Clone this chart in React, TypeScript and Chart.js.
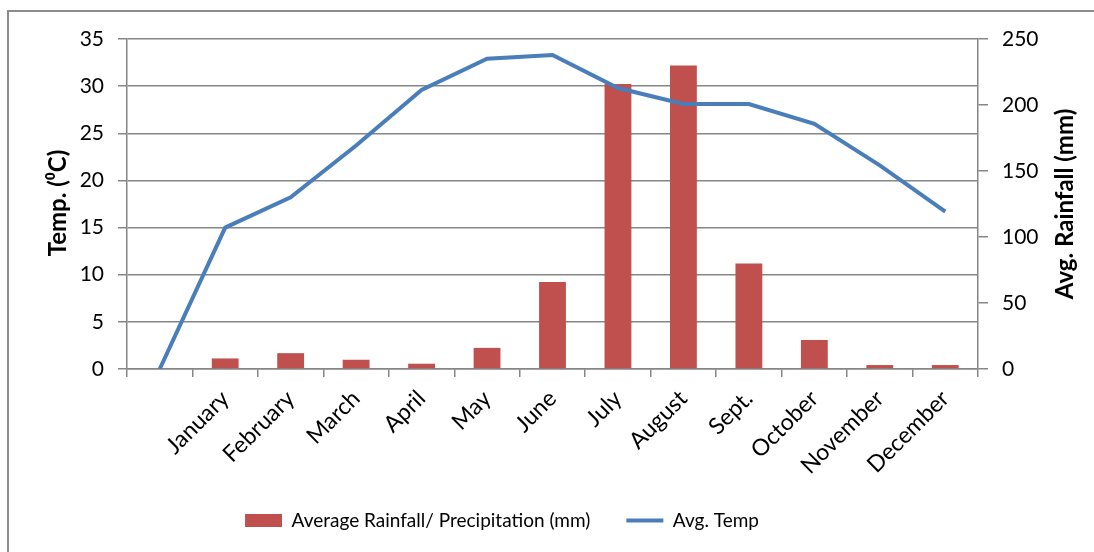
import React, { useEffect, useRef } from "react";
import { Chart, registerables } from "chart.js";

Chart.register(...registerables);

const categories = ["", "January", "February", "March", "April", "May", "June", "July", "August", "Sept.", "October", "November", "December"];
const rainfall = [null, 8, 12, 7, 4, 16, 66, 216, 230, 80, 22, 3, 3];
const avgTemp = [0, 15, 18.2, 23.7, 29.6, 32.9, 33.3, 29.8, 28.1, 28.1, 26.0, 21.6, 16.7];
const tempTicks = [0, 5, 10, 15, 20, 25, 30, 35];
const rainTicks = [0, 50, 100, 150, 200, 250];

const FONT = "Lato, 'Open Sans', sans-serif";
const GRID = "#868686";

const framePlugin = {
  id: "frameAndTitles",
  afterLayout(chart: any) {
    const lg = chart.legend;
    if (lg) {
      lg.left = 0;
      lg.right = 1004;
    }
  },
  afterDraw(chart: any) {
    const ctx = chart.ctx;
    ctx.save();
    ctx.strokeStyle = "#8c8c8c";
    ctx.lineWidth = 2;
    ctx.beginPath();
    ctx.moveTo(8, 552);
    ctx.lineTo(8, 11);
    ctx.lineTo(1094, 11);
    ctx.stroke();
    ctx.fillStyle = "#000";
    ctx.font = "bold 24px " + FONT;
    ctx.textAlign = "center";
    ctx.textBaseline = "middle";
    ctx.translate(58, 203);
    ctx.rotate(-Math.PI / 2);
    ctx.fillText("Temp. (\u2070C)", 0, 0);
    ctx.restore();
    ctx.save();
    ctx.fillStyle = "#000";
    ctx.font = "bold 24px " + FONT;
    ctx.textAlign = "center";
    ctx.textBaseline = "middle";
    ctx.translate(1065, 204);
    ctx.rotate(-Math.PI / 2);
    ctx.fillText("Avg. Rainfall (mm)", 0, 0);
    ctx.restore();
  },
};

export default function App() {
  const ref = useRef<HTMLCanvasElement | null>(null);
  useEffect(() => {
    if (!ref.current) return;
    const chart = new Chart(ref.current, {
      type: "bar",
      data: {
        labels: categories,
        datasets: [
          {
            type: "bar",
            label: "Average Rainfall/ Precipitation (mm)",
            data: rainfall as any,
            backgroundColor: "#C0504D",
            borderWidth: 0,
            yAxisID: "y1",
            order: 1,
            categoryPercentage: 1,
            barPercentage: 0.41,
            pointStyle: "rect",
          } as any,
          {
            type: "line",
            label: "Avg. Temp",
            data: avgTemp,
            borderColor: "#4A7EBB",
            backgroundColor: "#4A7EBB",
            borderWidth: 4,
            pointRadius: 0,
            pointStyle: "line",
            tension: 0,
            yAxisID: "y",
            order: 0,
          } as any,
        ],
      },
      options: {
        responsive: false,
        animation: false,
        devicePixelRatio: 1,
        layout: { padding: { left: 0, right: 0, top: 39, bottom: 12 } },
        plugins: {
          tooltip: { enabled: false },
          legend: {
            position: "bottom",
            labels: {
              usePointStyle: true,
              pointStyleWidth: 37,
              boxHeight: 13,
              padding: 36,
              color: "#000",
              font: { size: 19, family: FONT },
              sort: (a: any, b: any) => a.datasetIndex - b.datasetIndex,
            },
          },
        },
        scales: {
          x: {
            offset: true,
            grid: { display: true, drawOnChartArea: false, drawTicks: true, tickLength: 8, color: GRID, lineWidth: 1.5, offset: true },
            border: { display: true, color: GRID, width: 1.5 },
            ticks: { color: "#000", font: { size: 23, family: FONT }, maxRotation: 45, minRotation: 45, autoSkip: false, padding: 8 },
            afterFit: (s: any) => { s.height = 106; },
          },
          y: {
            position: "left",
            min: 0,
            max: 35,
            afterBuildTicks: (s: any) => { s.ticks = tempTicks.map((v) => ({ value: v })); },
            grid: { color: GRID, lineWidth: 1.5, tickLength: 9 },
            border: { display: true, color: GRID, width: 1.5 },
            ticks: { color: "#000", font: { size: 21, family: FONT }, padding: 14 },
            afterFit: (s: any) => { s.width = 127; },
          },
          y1: {
            position: "right",
            min: 0,
            max: 250,
            afterBuildTicks: (s: any) => { s.ticks = rainTicks.map((v) => ({ value: v })); },
            grid: { drawOnChartArea: false, color: GRID, lineWidth: 1.5, tickLength: 10 },
            border: { display: true, color: GRID, width: 1.5 },
            ticks: { color: "#000", font: { size: 21, family: FONT }, padding: 14 },
            afterFit: (s: any) => { s.width = 116; },
          },
        },
      },
      plugins: [framePlugin],
    });
    return () => chart.destroy();
  }, []);
  return (
    <div style={{ position: "absolute", left: 0, top: 0, width: 1094, height: 552, background: "#fff" }}>
      <canvas ref={ref} width={1094} height={552} style={{ display: "block" }} />
    </div>
  );
}
